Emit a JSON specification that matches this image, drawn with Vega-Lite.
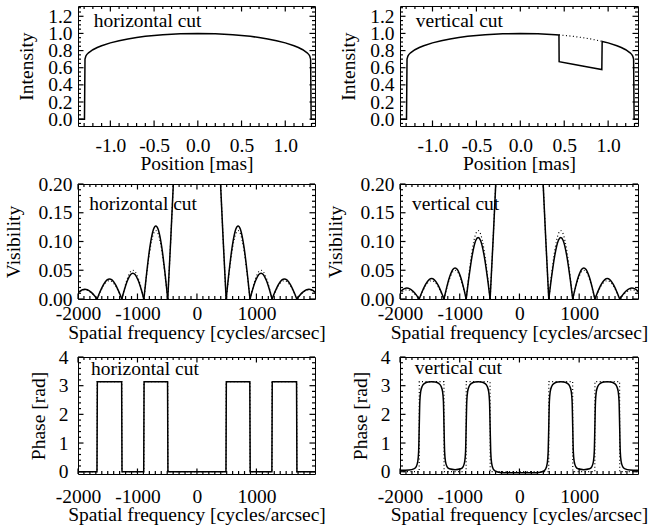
{
"$schema": "https://vega.github.io/schema/vega-lite/v6.json",
"background": "white",
"padding": {"left": 2, "top": 4, "right": 5, "bottom": 5},
"columns": 2,
"spacing": {"row": 58, "column": 85},
"bounds": "flush",
"config": {
  "font": "Liberation Serif",
  "view": {"stroke": "black", "strokeWidth": 1},
  "rule": {"color": "black", "strokeWidth": 1.2},
  "axis": {"labelFont": "Liberation Serif", "titleFont": "Liberation Serif", "labelFontSize": 19.5, "titleFontSize": 19.5, "labelColor": "black", "titleColor": "black", "titleFontWeight": "normal", "domain": false, "grid": false, "ticks": false, "labelFlush": false, "labelOverlap": false, "labelBound": false}
},
"datasets": {
  "t_top_x_maj": [{"t": -1}, {"t": -0.5}, {"t": 0}, {"t": 0.5}, {"t": 1}],
  "t_top_x_min": [{"t": -1.3}, {"t": -1.2}, {"t": -1.1}, {"t": -0.9}, {"t": -0.8}, {"t": -0.7}, {"t": -0.6}, {"t": -0.4}, {"t": -0.3}, {"t": -0.2}, {"t": -0.1}, {"t": 0.1}, {"t": 0.2}, {"t": 0.3}, {"t": 0.4}, {"t": 0.6}, {"t": 0.7}, {"t": 0.8}, {"t": 0.9}, {"t": 1.1}, {"t": 1.2}, {"t": 1.3}],
  "t_top_y_maj": [{"t": 0}, {"t": 0.2}, {"t": 0.4}, {"t": 0.6}, {"t": 0.8}, {"t": 1.0}, {"t": 1.2}],
  "t_top_y_min": [{"t": -0.05}, {"t": 0.05}, {"t": 0.1}, {"t": 0.15}, {"t": 0.25}, {"t": 0.3}, {"t": 0.35}, {"t": 0.45}, {"t": 0.5}, {"t": 0.55}, {"t": 0.65}, {"t": 0.7}, {"t": 0.75}, {"t": 0.85}, {"t": 0.9}, {"t": 0.95}, {"t": 1.05}, {"t": 1.1}, {"t": 1.15}, {"t": 1.25}, {"t": 1.3}],
  "t_f_x_maj": [{"t": -2000}, {"t": -1000}, {"t": 0}, {"t": 1000}],
  "t_f_x_min": [{"t": -1900}, {"t": -1800}, {"t": -1700}, {"t": -1600}, {"t": -1500}, {"t": -1400}, {"t": -1300}, {"t": -1200}, {"t": -1100}, {"t": -900}, {"t": -800}, {"t": -700}, {"t": -600}, {"t": -500}, {"t": -400}, {"t": -300}, {"t": -200}, {"t": -100}, {"t": 100}, {"t": 200}, {"t": 300}, {"t": 400}, {"t": 500}, {"t": 600}, {"t": 700}, {"t": 800}, {"t": 900}, {"t": 1100}, {"t": 1200}, {"t": 1300}, {"t": 1400}, {"t": 1500}, {"t": 1600}, {"t": 1700}, {"t": 1800}, {"t": 1900}],
  "t_v_y_maj": [{"t": 0}, {"t": 0.05}, {"t": 0.1}, {"t": 0.15}, {"t": 0.2}],
  "t_v_y_min": [{"t": 0.01}, {"t": 0.02}, {"t": 0.03}, {"t": 0.04}, {"t": 0.06}, {"t": 0.07}, {"t": 0.08}, {"t": 0.09}, {"t": 0.11}, {"t": 0.12}, {"t": 0.13}, {"t": 0.14}, {"t": 0.16}, {"t": 0.17}, {"t": 0.18}, {"t": 0.19}],
  "t_p_y_maj": [{"t": 0}, {"t": 1}, {"t": 2}, {"t": 3}, {"t": 4}],
  "t_p_y_min": [{"t": 0.2}, {"t": 0.4}, {"t": 0.6}, {"t": 0.8}, {"t": 1.2}, {"t": 1.4}, {"t": 1.6}, {"t": 1.8}, {"t": 2.2}, {"t": 2.4}, {"t": 2.6}, {"t": 2.8}, {"t": 3.2}, {"t": 3.4}, {"t": 3.6}, {"t": 3.8}],
  "int_h": [
    {"x": -1.37, "y": 0}, {"x": -1.296, "y": 0}, {"x": -1.29, "y": 0.70}, {"x": -1.28, "y": 0.737}, {"x": -1.27, "y": 0.753}, {"x": -1.25, "y": 0.774}, {"x": -1.2, "y": 0.810}, {"x": -1.15, "y": 0.836}, {"x": -1.1, "y": 0.857}, {"x": -1.0, "y": 0.890}, {"x": -0.9, "y": 0.915}, {"x": -0.8, "y": 0.936}, {"x": -0.7, "y": 0.952}, {"x": -0.6, "y": 0.966}, {"x": -0.4, "y": 0.985}, {"x": -0.2, "y": 0.996}, {"x": 0, "y": 1.0}, {"x": 0.2, "y": 0.996}, {"x": 0.4, "y": 0.985}, {"x": 0.6, "y": 0.966}, {"x": 0.7, "y": 0.952}, {"x": 0.8, "y": 0.936}, {"x": 0.9, "y": 0.915}, {"x": 1.0, "y": 0.890}, {"x": 1.1, "y": 0.857}, {"x": 1.15, "y": 0.836}, {"x": 1.2, "y": 0.810}, {"x": 1.25, "y": 0.774}, {"x": 1.27, "y": 0.753}, {"x": 1.28, "y": 0.737}, {"x": 1.29, "y": 0.70}, {"x": 1.296, "y": 0}, {"x": 1.34, "y": 0}
  ],
  "int_v": [
    {"x": -1.37, "y": 0}, {"x": -1.296, "y": 0}, {"x": -1.29, "y": 0.70}, {"x": -1.28, "y": 0.737}, {"x": -1.27, "y": 0.753}, {"x": -1.25, "y": 0.774}, {"x": -1.2, "y": 0.810}, {"x": -1.15, "y": 0.836}, {"x": -1.1, "y": 0.857}, {"x": -1.0, "y": 0.890}, {"x": -0.9, "y": 0.915}, {"x": -0.8, "y": 0.936}, {"x": -0.7, "y": 0.952}, {"x": -0.6, "y": 0.966}, {"x": -0.4, "y": 0.985}, {"x": -0.2, "y": 0.996}, {"x": 0, "y": 1.0}, {"x": 0.2, "y": 0.996}, {"x": 0.4, "y": 0.985}, {"x": 0.44, "y": 0.982}, {"x": 0.442, "y": 0.670}, {"x": 0.6, "y": 0.640}, {"x": 0.8, "y": 0.602}, {"x": 0.928, "y": 0.578}, {"x": 0.932, "y": 0.907}, {"x": 1.0, "y": 0.890}, {"x": 1.1, "y": 0.857}, {"x": 1.15, "y": 0.836}, {"x": 1.2, "y": 0.810}, {"x": 1.25, "y": 0.774}, {"x": 1.27, "y": 0.753}, {"x": 1.28, "y": 0.737}, {"x": 1.29, "y": 0.70}, {"x": 1.296, "y": 0}, {"x": 1.34, "y": 0}
  ],
  "int_vd": [
    {"x": 0.44, "y": 0.982}, {"x": 0.5, "y": 0.977}, {"x": 0.6, "y": 0.966}, {"x": 0.7, "y": 0.952}, {"x": 0.8, "y": 0.936}, {"x": 0.932, "y": 0.907}
  ],
  "vis_h": [
    {"seg": "c", "f": -491, "v": 0}, {"seg": "c", "f": -440, "v": 0.105}, {"seg": "c", "f": -397, "v": 0.2}, {"seg": "c", "f": -300, "v": 0.42}, {"seg": "c", "f": -150, "v": 0.8}, {"seg": "c", "f": 0, "v": 1}, {"seg": "c", "f": 150, "v": 0.8}, {"seg": "c", "f": 300, "v": 0.42}, {"seg": "c", "f": 397, "v": 0.2}, {"seg": "c", "f": 440, "v": 0.105}, {"seg": "c", "f": 491, "v": 0},
    {"seg": "p2", "f": 491, "v": 0}, {"seg": "p2", "f": 531, "v": 0.0392}, {"seg": "p2", "f": 591, "v": 0.0898}, {"seg": "p2", "f": 651, "v": 0.1208}, {"seg": "p2", "f": 692, "v": 0.127}, {"seg": "p2", "f": 732, "v": 0.1208}, {"seg": "p2", "f": 792, "v": 0.0898}, {"seg": "p2", "f": 852, "v": 0.0392}, {"seg": "p2", "f": 892, "v": 0},
    {"seg": "p3", "f": 892, "v": 0}, {"seg": "p3", "f": 929, "v": 0.0139}, {"seg": "p3", "f": 985, "v": 0.0318}, {"seg": "p3", "f": 1040, "v": 0.0428}, {"seg": "p3", "f": 1078, "v": 0.045}, {"seg": "p3", "f": 1115, "v": 0.0428}, {"seg": "p3", "f": 1170, "v": 0.0318}, {"seg": "p3", "f": 1226, "v": 0.0139}, {"seg": "p3", "f": 1263, "v": 0},
    {"seg": "p4", "f": 1263, "v": 0}, {"seg": "p4", "f": 1305, "v": 0.0108}, {"seg": "p4", "f": 1367, "v": 0.0247}, {"seg": "p4", "f": 1429, "v": 0.0333}, {"seg": "p4", "f": 1471, "v": 0.035}, {"seg": "p4", "f": 1512, "v": 0.0333}, {"seg": "p4", "f": 1574, "v": 0.0247}, {"seg": "p4", "f": 1637, "v": 0.0108}, {"seg": "p4", "f": 1678, "v": 0},
    {"seg": "p5", "f": 1678, "v": 0}, {"seg": "p5", "f": 1719, "v": 0.0053}, {"seg": "p5", "f": 1781, "v": 0.012}, {"seg": "p5", "f": 1843, "v": 0.0162}, {"seg": "p5", "f": 1884, "v": 0.017}, {"seg": "p5", "f": 1925, "v": 0.0162}, {"seg": "p5", "f": 1987, "v": 0.012}, {"seg": "p5", "f": 2049, "v": 0.0053},
    {"seg": "n2", "f": -491, "v": 0}, {"seg": "n2", "f": -531, "v": 0.0392}, {"seg": "n2", "f": -591, "v": 0.0898}, {"seg": "n2", "f": -651, "v": 0.1208}, {"seg": "n2", "f": -692, "v": 0.127}, {"seg": "n2", "f": -732, "v": 0.1208}, {"seg": "n2", "f": -792, "v": 0.0898}, {"seg": "n2", "f": -852, "v": 0.0392}, {"seg": "n2", "f": -892, "v": 0},
    {"seg": "n3", "f": -892, "v": 0}, {"seg": "n3", "f": -929, "v": 0.0139}, {"seg": "n3", "f": -985, "v": 0.0318}, {"seg": "n3", "f": -1040, "v": 0.0428}, {"seg": "n3", "f": -1078, "v": 0.045}, {"seg": "n3", "f": -1115, "v": 0.0428}, {"seg": "n3", "f": -1170, "v": 0.0318}, {"seg": "n3", "f": -1226, "v": 0.0139}, {"seg": "n3", "f": -1263, "v": 0},
    {"seg": "n4", "f": -1263, "v": 0}, {"seg": "n4", "f": -1305, "v": 0.0108}, {"seg": "n4", "f": -1367, "v": 0.0247}, {"seg": "n4", "f": -1429, "v": 0.0333}, {"seg": "n4", "f": -1471, "v": 0.035}, {"seg": "n4", "f": -1512, "v": 0.0333}, {"seg": "n4", "f": -1574, "v": 0.0247}, {"seg": "n4", "f": -1637, "v": 0.0108}, {"seg": "n4", "f": -1678, "v": 0},
    {"seg": "n5", "f": -1678, "v": 0}, {"seg": "n5", "f": -1719, "v": 0.0053}, {"seg": "n5", "f": -1781, "v": 0.012}, {"seg": "n5", "f": -1843, "v": 0.0162}, {"seg": "n5", "f": -1884, "v": 0.017}, {"seg": "n5", "f": -1925, "v": 0.0162}, {"seg": "n5", "f": -1987, "v": 0.012}, {"seg": "n5", "f": -2049, "v": 0.0053}
  ],
  "vis_d": [
    {"seg": "c", "f": -491, "v": 0}, {"seg": "c", "f": -440, "v": 0.105}, {"seg": "c", "f": -397, "v": 0.2}, {"seg": "c", "f": -300, "v": 0.42}, {"seg": "c", "f": -150, "v": 0.8}, {"seg": "c", "f": 0, "v": 1}, {"seg": "c", "f": 150, "v": 0.8}, {"seg": "c", "f": 300, "v": 0.42}, {"seg": "c", "f": 397, "v": 0.2}, {"seg": "c", "f": 440, "v": 0.105}, {"seg": "c", "f": 491, "v": 0},
    {"seg": "p2", "f": 491, "v": 0}, {"seg": "p2", "f": 531, "v": 0.0368}, {"seg": "p2", "f": 591, "v": 0.0841}, {"seg": "p2", "f": 651, "v": 0.1132}, {"seg": "p2", "f": 692, "v": 0.119}, {"seg": "p2", "f": 732, "v": 0.1132}, {"seg": "p2", "f": 792, "v": 0.0841}, {"seg": "p2", "f": 852, "v": 0.0368}, {"seg": "p2", "f": 892, "v": 0},
    {"seg": "p3", "f": 892, "v": 0}, {"seg": "p3", "f": 929, "v": 0.0155}, {"seg": "p3", "f": 985, "v": 0.0354}, {"seg": "p3", "f": 1040, "v": 0.0476}, {"seg": "p3", "f": 1078, "v": 0.05}, {"seg": "p3", "f": 1115, "v": 0.0476}, {"seg": "p3", "f": 1170, "v": 0.0354}, {"seg": "p3", "f": 1226, "v": 0.0155}, {"seg": "p3", "f": 1263, "v": 0},
    {"seg": "p4", "f": 1263, "v": 0}, {"seg": "p4", "f": 1305, "v": 0.0099}, {"seg": "p4", "f": 1367, "v": 0.0226}, {"seg": "p4", "f": 1429, "v": 0.0304}, {"seg": "p4", "f": 1471, "v": 0.032}, {"seg": "p4", "f": 1512, "v": 0.0304}, {"seg": "p4", "f": 1574, "v": 0.0226}, {"seg": "p4", "f": 1637, "v": 0.0099}, {"seg": "p4", "f": 1678, "v": 0},
    {"seg": "p5", "f": 1678, "v": 0}, {"seg": "p5", "f": 1719, "v": 0.0049}, {"seg": "p5", "f": 1781, "v": 0.0113}, {"seg": "p5", "f": 1843, "v": 0.0152}, {"seg": "p5", "f": 1884, "v": 0.016}, {"seg": "p5", "f": 1925, "v": 0.0152}, {"seg": "p5", "f": 1987, "v": 0.0113}, {"seg": "p5", "f": 2049, "v": 0.0049},
    {"seg": "n2", "f": -491, "v": 0}, {"seg": "n2", "f": -531, "v": 0.0368}, {"seg": "n2", "f": -591, "v": 0.0841}, {"seg": "n2", "f": -651, "v": 0.1132}, {"seg": "n2", "f": -692, "v": 0.119}, {"seg": "n2", "f": -732, "v": 0.1132}, {"seg": "n2", "f": -792, "v": 0.0841}, {"seg": "n2", "f": -852, "v": 0.0368}, {"seg": "n2", "f": -892, "v": 0},
    {"seg": "n3", "f": -892, "v": 0}, {"seg": "n3", "f": -929, "v": 0.0155}, {"seg": "n3", "f": -985, "v": 0.0354}, {"seg": "n3", "f": -1040, "v": 0.0476}, {"seg": "n3", "f": -1078, "v": 0.05}, {"seg": "n3", "f": -1115, "v": 0.0476}, {"seg": "n3", "f": -1170, "v": 0.0354}, {"seg": "n3", "f": -1226, "v": 0.0155}, {"seg": "n3", "f": -1263, "v": 0},
    {"seg": "n4", "f": -1263, "v": 0}, {"seg": "n4", "f": -1305, "v": 0.0099}, {"seg": "n4", "f": -1367, "v": 0.0226}, {"seg": "n4", "f": -1429, "v": 0.0304}, {"seg": "n4", "f": -1471, "v": 0.032}, {"seg": "n4", "f": -1512, "v": 0.0304}, {"seg": "n4", "f": -1574, "v": 0.0226}, {"seg": "n4", "f": -1637, "v": 0.0099}, {"seg": "n4", "f": -1678, "v": 0},
    {"seg": "n5", "f": -1678, "v": 0}, {"seg": "n5", "f": -1719, "v": 0.0049}, {"seg": "n5", "f": -1781, "v": 0.0113}, {"seg": "n5", "f": -1843, "v": 0.0152}, {"seg": "n5", "f": -1884, "v": 0.016}, {"seg": "n5", "f": -1925, "v": 0.0152}, {"seg": "n5", "f": -1987, "v": 0.0113}, {"seg": "n5", "f": -2049, "v": 0.0049}
  ],
  "vis_v": [
    {"seg": "c", "f": -491, "v": 0}, {"seg": "c", "f": -440, "v": 0.105}, {"seg": "c", "f": -397, "v": 0.2}, {"seg": "c", "f": -300, "v": 0.42}, {"seg": "c", "f": -150, "v": 0.8}, {"seg": "c", "f": 0, "v": 1}, {"seg": "c", "f": 150, "v": 0.8}, {"seg": "c", "f": 300, "v": 0.42}, {"seg": "c", "f": 397, "v": 0.2}, {"seg": "c", "f": 440, "v": 0.105}, {"seg": "c", "f": 491, "v": 0},
    {"seg": "p2", "f": 491, "v": 0}, {"seg": "p2", "f": 531, "v": 0.0331}, {"seg": "p2", "f": 591, "v": 0.0756}, {"seg": "p2", "f": 651, "v": 0.1018}, {"seg": "p2", "f": 692, "v": 0.107}, {"seg": "p2", "f": 732, "v": 0.1018}, {"seg": "p2", "f": 792, "v": 0.0756}, {"seg": "p2", "f": 852, "v": 0.0331}, {"seg": "p2", "f": 892, "v": 0},
    {"seg": "p3", "f": 892, "v": 0}, {"seg": "p3", "f": 929, "v": 0.0167}, {"seg": "p3", "f": 985, "v": 0.0382}, {"seg": "p3", "f": 1040, "v": 0.0514}, {"seg": "p3", "f": 1078, "v": 0.054}, {"seg": "p3", "f": 1115, "v": 0.0514}, {"seg": "p3", "f": 1170, "v": 0.0382}, {"seg": "p3", "f": 1226, "v": 0.0167}, {"seg": "p3", "f": 1263, "v": 0},
    {"seg": "p4", "f": 1263, "v": 0}, {"seg": "p4", "f": 1305, "v": 0.011}, {"seg": "p4", "f": 1367, "v": 0.0251}, {"seg": "p4", "f": 1429, "v": 0.0338}, {"seg": "p4", "f": 1471, "v": 0.0355}, {"seg": "p4", "f": 1512, "v": 0.0338}, {"seg": "p4", "f": 1574, "v": 0.0251}, {"seg": "p4", "f": 1637, "v": 0.011}, {"seg": "p4", "f": 1678, "v": 0},
    {"seg": "p5", "f": 1678, "v": 0}, {"seg": "p5", "f": 1719, "v": 0.0059}, {"seg": "p5", "f": 1781, "v": 0.0134}, {"seg": "p5", "f": 1843, "v": 0.0181}, {"seg": "p5", "f": 1884, "v": 0.019}, {"seg": "p5", "f": 1925, "v": 0.0181}, {"seg": "p5", "f": 1987, "v": 0.0134}, {"seg": "p5", "f": 2049, "v": 0.0059},
    {"seg": "n2", "f": -491, "v": 0}, {"seg": "n2", "f": -531, "v": 0.0331}, {"seg": "n2", "f": -591, "v": 0.0756}, {"seg": "n2", "f": -651, "v": 0.1018}, {"seg": "n2", "f": -692, "v": 0.107}, {"seg": "n2", "f": -732, "v": 0.1018}, {"seg": "n2", "f": -792, "v": 0.0756}, {"seg": "n2", "f": -852, "v": 0.0331}, {"seg": "n2", "f": -892, "v": 0},
    {"seg": "n3", "f": -892, "v": 0}, {"seg": "n3", "f": -929, "v": 0.0167}, {"seg": "n3", "f": -985, "v": 0.0382}, {"seg": "n3", "f": -1040, "v": 0.0514}, {"seg": "n3", "f": -1078, "v": 0.054}, {"seg": "n3", "f": -1115, "v": 0.0514}, {"seg": "n3", "f": -1170, "v": 0.0382}, {"seg": "n3", "f": -1226, "v": 0.0167}, {"seg": "n3", "f": -1263, "v": 0},
    {"seg": "n4", "f": -1263, "v": 0}, {"seg": "n4", "f": -1305, "v": 0.011}, {"seg": "n4", "f": -1367, "v": 0.0251}, {"seg": "n4", "f": -1429, "v": 0.0338}, {"seg": "n4", "f": -1471, "v": 0.0355}, {"seg": "n4", "f": -1512, "v": 0.0338}, {"seg": "n4", "f": -1574, "v": 0.0251}, {"seg": "n4", "f": -1637, "v": 0.011}, {"seg": "n4", "f": -1678, "v": 0},
    {"seg": "n5", "f": -1678, "v": 0}, {"seg": "n5", "f": -1719, "v": 0.0059}, {"seg": "n5", "f": -1781, "v": 0.0134}, {"seg": "n5", "f": -1843, "v": 0.0181}, {"seg": "n5", "f": -1884, "v": 0.019}, {"seg": "n5", "f": -1925, "v": 0.0181}, {"seg": "n5", "f": -1987, "v": 0.0134}, {"seg": "n5", "f": -2049, "v": 0.0059}
  ],
  "ph_h": [
    {"f": -2000, "p": 0}, {"f": -1681, "p": 0}, {"f": -1675, "p": 3.14}, {"f": -1266, "p": 3.14}, {"f": -1260, "p": 0}, {"f": -895, "p": 0}, {"f": -889, "p": 3.14}, {"f": -494, "p": 3.14}, {"f": -488, "p": 0}, {"f": 488, "p": 0}, {"f": 494, "p": 3.14}, {"f": 889, "p": 3.14}, {"f": 895, "p": 0}, {"f": 1260, "p": 0}, {"f": 1266, "p": 3.14}, {"f": 1675, "p": 3.14}, {"f": 1681, "p": 0}, {"f": 1985, "p": 0}
  ],
  "ph_d": [
    {"f": -2000, "p": 0}, {"f": -1679, "p": 0}, {"f": -1677, "p": 3.1416}, {"f": -1264, "p": 3.1416}, {"f": -1262, "p": 0}, {"f": -893, "p": 0}, {"f": -891, "p": 3.1416}, {"f": -492, "p": 3.1416}, {"f": -490, "p": 0}, {"f": 490, "p": 0}, {"f": 492, "p": 3.1416}, {"f": 891, "p": 3.1416}, {"f": 893, "p": 0}, {"f": 1262, "p": 0}, {"f": 1264, "p": 3.1416}, {"f": 1677, "p": 3.1416}, {"f": 1679, "p": 0}, {"f": 1985, "p": 0}
  ],
  "ph_v": [
    {"f": -2000, "p": 0.05}, {"f": -1850, "p": 0.06}, {"f": -1768, "p": 0.1}, {"f": -1728, "p": 0.18}, {"f": -1703, "p": 0.35}, {"f": -1688, "p": 0.7}, {"f": -1678, "p": 1.57}, {"f": -1668, "p": 2.45}, {"f": -1653, "p": 2.8}, {"f": -1628, "p": 2.98}, {"f": -1588, "p": 3.08}, {"f": -1530, "p": 3.13}, {"f": -1471, "p": 3.14}, {"f": -1410, "p": 3.13}, {"f": -1353, "p": 3.08}, {"f": -1313, "p": 2.98}, {"f": -1288, "p": 2.8}, {"f": -1273, "p": 2.45}, {"f": -1263, "p": 1.57}, {"f": -1253, "p": 0.7}, {"f": -1238, "p": 0.35}, {"f": -1213, "p": 0.18}, {"f": -1173, "p": 0.1}, {"f": -1078, "p": 0.07}, {"f": -982, "p": 0.1}, {"f": -942, "p": 0.18}, {"f": -917, "p": 0.35}, {"f": -902, "p": 0.7}, {"f": -892, "p": 1.57}, {"f": -882, "p": 2.45}, {"f": -867, "p": 2.8}, {"f": -842, "p": 2.98}, {"f": -802, "p": 3.08}, {"f": -744, "p": 3.13}, {"f": -692, "p": 3.14}, {"f": -640, "p": 3.13}, {"f": -581, "p": 3.08}, {"f": -541, "p": 2.98}, {"f": -516, "p": 2.8}, {"f": -501, "p": 2.45}, {"f": -491, "p": 1.57}, {"f": -481, "p": 0.7}, {"f": -466, "p": 0.3}, {"f": -440, "p": 0.1}, {"f": -400, "p": 0.02}, {"f": -350, "p": -0.02}, {"f": -250, "p": -0.04}, {"f": 0, "p": -0.04},
    {"f": 250, "p": -0.04}, {"f": 350, "p": -0.02}, {"f": 400, "p": 0.02}, {"f": 440, "p": 0.1}, {"f": 466, "p": 0.3}, {"f": 481, "p": 0.7}, {"f": 491, "p": 1.57}, {"f": 501, "p": 2.45}, {"f": 516, "p": 2.8}, {"f": 541, "p": 2.98}, {"f": 581, "p": 3.08}, {"f": 640, "p": 3.13}, {"f": 692, "p": 3.14}, {"f": 744, "p": 3.13}, {"f": 802, "p": 3.08}, {"f": 842, "p": 2.98}, {"f": 867, "p": 2.8}, {"f": 882, "p": 2.45}, {"f": 892, "p": 1.57}, {"f": 902, "p": 0.7}, {"f": 917, "p": 0.35}, {"f": 942, "p": 0.18}, {"f": 982, "p": 0.1}, {"f": 1078, "p": 0.07}, {"f": 1173, "p": 0.1}, {"f": 1213, "p": 0.18}, {"f": 1238, "p": 0.35}, {"f": 1253, "p": 0.7}, {"f": 1263, "p": 1.57}, {"f": 1273, "p": 2.45}, {"f": 1288, "p": 2.8}, {"f": 1313, "p": 2.98}, {"f": 1353, "p": 3.08}, {"f": 1410, "p": 3.13}, {"f": 1471, "p": 3.14}, {"f": 1530, "p": 3.13}, {"f": 1588, "p": 3.08}, {"f": 1628, "p": 2.98}, {"f": 1653, "p": 2.8}, {"f": 1668, "p": 2.45}, {"f": 1678, "p": 1.57}, {"f": 1688, "p": 0.7}, {"f": 1703, "p": 0.35}, {"f": 1728, "p": 0.18}, {"f": 1768, "p": 0.1}, {"f": 1850, "p": 0.06}, {"f": 1985, "p": 0.05}
  ]
},
"concat": [
  {"width": 237, "height": 120, "resolve": {"axis": {"x": "independent", "y": "independent"}},
   "layer": [
    {"data": {"name": "int_h"}, "mark": {"type": "line", "color": "black", "strokeWidth": 1.5, "clip": true},
     "encoding": {
      "x": {"field": "x", "type": "quantitative", "scale": {"domain": [-1.37, 1.34], "nice": false, "zero": false}, "axis": {"title": "Position [mas]", "values": [-1, -0.5, 0, 0.5, 1], "format": ".1f", "labelExpr": "replace(datum.label, '\u2212', '-')", "labelPadding": 10, "titlePadding": 0}},
      "y": {"field": "y", "type": "quantitative", "scale": {"domain": [-0.08, 1.32], "nice": false, "zero": false}, "axis": {"title": "Intensity", "values": [0, 0.2, 0.4, 0.6, 0.8, 1, 1.2], "format": ".1f", "labelPadding": 6, "titlePadding": 2, "minExtent": 40, "maxExtent": 40}}}},
    {"data": {"values": [{"label": "horizontal cut"}]}, "mark": {"type": "text", "align": "left", "baseline": "alphabetic", "fontSize": 19.5, "font": "Liberation Serif", "color": "black"},
     "encoding": {"x": {"datum": -1.19, "type": "quantitative", "axis": null}, "y": {"datum": 1.08, "type": "quantitative", "axis": null}, "text": {"field": "label"}}},
    {"data": {"name": "t_top_x_maj"}, "mark": {"type": "rule", "y2Offset": -5.5}, "encoding": {"x": {"field": "t", "type": "quantitative", "axis": null}, "y": {"datum": -0.08, "type": "quantitative", "axis": null}, "y2": {"datum": -0.08}}},
    {"data": {"name": "t_top_x_min"}, "mark": {"type": "rule", "y2Offset": -3}, "encoding": {"x": {"field": "t", "type": "quantitative", "axis": null}, "y": {"datum": -0.08, "type": "quantitative", "axis": null}, "y2": {"datum": -0.08}}},
    {"data": {"name": "t_top_x_maj"}, "mark": {"type": "rule", "y2Offset": 5.5}, "encoding": {"x": {"field": "t", "type": "quantitative", "axis": null}, "y": {"datum": 1.32, "type": "quantitative", "axis": null}, "y2": {"datum": 1.32}}},
    {"data": {"name": "t_top_x_min"}, "mark": {"type": "rule", "y2Offset": 3}, "encoding": {"x": {"field": "t", "type": "quantitative", "axis": null}, "y": {"datum": 1.32, "type": "quantitative", "axis": null}, "y2": {"datum": 1.32}}},
    {"data": {"name": "t_top_y_maj"}, "mark": {"type": "rule", "x2Offset": 5.5}, "encoding": {"y": {"field": "t", "type": "quantitative", "axis": null}, "x": {"datum": -1.37, "type": "quantitative", "axis": null}, "x2": {"datum": -1.37}}},
    {"data": {"name": "t_top_y_min"}, "mark": {"type": "rule", "x2Offset": 3}, "encoding": {"y": {"field": "t", "type": "quantitative", "axis": null}, "x": {"datum": -1.37, "type": "quantitative", "axis": null}, "x2": {"datum": -1.37}}},
    {"data": {"name": "t_top_y_maj"}, "mark": {"type": "rule", "x2Offset": -5.5}, "encoding": {"y": {"field": "t", "type": "quantitative", "axis": null}, "x": {"datum": 1.34, "type": "quantitative", "axis": null}, "x2": {"datum": 1.34}}},
    {"data": {"name": "t_top_y_min"}, "mark": {"type": "rule", "x2Offset": -3}, "encoding": {"y": {"field": "t", "type": "quantitative", "axis": null}, "x": {"datum": 1.34, "type": "quantitative", "axis": null}, "x2": {"datum": 1.34}}}
   ]},
  {"width": 238, "height": 120, "resolve": {"axis": {"x": "independent", "y": "independent"}},
   "layer": [
    {"data": {"name": "int_v"}, "mark": {"type": "line", "color": "black", "strokeWidth": 1.5, "clip": true},
     "encoding": {
      "x": {"field": "x", "type": "quantitative", "scale": {"domain": [-1.37, 1.34], "nice": false, "zero": false}, "axis": {"title": "Position [mas]", "values": [-1, -0.5, 0, 0.5, 1], "format": ".1f", "labelExpr": "replace(datum.label, '\u2212', '-')", "labelPadding": 10, "titlePadding": 0}},
      "y": {"field": "y", "type": "quantitative", "scale": {"domain": [-0.08, 1.32], "nice": false, "zero": false}, "axis": {"title": "Intensity", "values": [0, 0.2, 0.4, 0.6, 0.8, 1, 1.2], "format": ".1f", "labelPadding": 6, "titlePadding": 2, "minExtent": 40, "maxExtent": 40}}}},
    {"data": {"name": "int_vd"}, "mark": {"type": "line", "color": "black", "strokeWidth": 1.2, "strokeDash": [1, 2.5], "clip": true},
     "encoding": {"x": {"field": "x", "type": "quantitative", "axis": null}, "y": {"field": "y", "type": "quantitative", "axis": null}}},
    {"data": {"values": [{"label": "vertical cut"}]}, "mark": {"type": "text", "align": "left", "baseline": "alphabetic", "fontSize": 19.5, "font": "Liberation Serif", "color": "black"},
     "encoding": {"x": {"datum": -1.19, "type": "quantitative", "axis": null}, "y": {"datum": 1.08, "type": "quantitative", "axis": null}, "text": {"field": "label"}}},
    {"data": {"name": "t_top_x_maj"}, "mark": {"type": "rule", "y2Offset": -5.5}, "encoding": {"x": {"field": "t", "type": "quantitative", "axis": null}, "y": {"datum": -0.08, "type": "quantitative", "axis": null}, "y2": {"datum": -0.08}}},
    {"data": {"name": "t_top_x_min"}, "mark": {"type": "rule", "y2Offset": -3}, "encoding": {"x": {"field": "t", "type": "quantitative", "axis": null}, "y": {"datum": -0.08, "type": "quantitative", "axis": null}, "y2": {"datum": -0.08}}},
    {"data": {"name": "t_top_x_maj"}, "mark": {"type": "rule", "y2Offset": 5.5}, "encoding": {"x": {"field": "t", "type": "quantitative", "axis": null}, "y": {"datum": 1.32, "type": "quantitative", "axis": null}, "y2": {"datum": 1.32}}},
    {"data": {"name": "t_top_x_min"}, "mark": {"type": "rule", "y2Offset": 3}, "encoding": {"x": {"field": "t", "type": "quantitative", "axis": null}, "y": {"datum": 1.32, "type": "quantitative", "axis": null}, "y2": {"datum": 1.32}}},
    {"data": {"name": "t_top_y_maj"}, "mark": {"type": "rule", "x2Offset": 5.5}, "encoding": {"y": {"field": "t", "type": "quantitative", "axis": null}, "x": {"datum": -1.37, "type": "quantitative", "axis": null}, "x2": {"datum": -1.37}}},
    {"data": {"name": "t_top_y_min"}, "mark": {"type": "rule", "x2Offset": 3}, "encoding": {"y": {"field": "t", "type": "quantitative", "axis": null}, "x": {"datum": -1.37, "type": "quantitative", "axis": null}, "x2": {"datum": -1.37}}},
    {"data": {"name": "t_top_y_maj"}, "mark": {"type": "rule", "x2Offset": -5.5}, "encoding": {"y": {"field": "t", "type": "quantitative", "axis": null}, "x": {"datum": 1.34, "type": "quantitative", "axis": null}, "x2": {"datum": 1.34}}},
    {"data": {"name": "t_top_y_min"}, "mark": {"type": "rule", "x2Offset": -3}, "encoding": {"y": {"field": "t", "type": "quantitative", "axis": null}, "x": {"datum": 1.34, "type": "quantitative", "axis": null}, "x2": {"datum": 1.34}}}
   ]},
  {"width": 237, "height": 115, "resolve": {"axis": {"x": "independent", "y": "independent"}},
   "layer": [
    {"data": {"name": "vis_h"}, "mark": {"type": "line", "color": "black", "strokeWidth": 1.5, "clip": true, "interpolate": "monotone"},
     "encoding": {
      "x": {"field": "f", "type": "quantitative", "scale": {"domain": [-2000, 1985], "nice": false, "zero": false}, "axis": {"title": "Spatial frequency [cycles/arcsec]", "values": [-2000, -1000, 0, 1000], "format": "d", "labelExpr": "replace(datum.label, '\u2212', '-')", "labelPadding": 5, "titlePadding": 1}},
      "y": {"field": "v", "type": "quantitative", "scale": {"domain": [0, 0.2], "nice": false, "zero": false}, "axis": {"title": "Visibility", "values": [0, 0.05, 0.1, 0.15, 0.2], "format": ".2f", "labelPadding": 6, "titlePadding": 2, "minExtent": 53, "maxExtent": 53}},
      "detail": {"field": "seg"}}},
    {"data": {"name": "vis_d"}, "mark": {"type": "line", "color": "black", "strokeWidth": 1.2, "strokeDash": [1, 2.5], "clip": true, "interpolate": "monotone"},
     "encoding": {"x": {"field": "f", "type": "quantitative", "axis": null}, "y": {"field": "v", "type": "quantitative", "axis": null}, "detail": {"field": "seg"}}},
    {"data": {"values": [{"label": "horizontal cut"}]}, "mark": {"type": "text", "align": "left", "baseline": "alphabetic", "fontSize": 19.5, "font": "Liberation Serif", "color": "black"},
     "encoding": {"x": {"datum": -1811, "type": "quantitative", "axis": null}, "y": {"datum": 0.154, "type": "quantitative", "axis": null}, "text": {"field": "label"}}},
    {"data": {"name": "t_f_x_maj"}, "mark": {"type": "rule", "y2Offset": -5.5}, "encoding": {"x": {"field": "t", "type": "quantitative", "axis": null}, "y": {"datum": 0, "type": "quantitative", "axis": null}, "y2": {"datum": 0}}},
    {"data": {"name": "t_f_x_min"}, "mark": {"type": "rule", "y2Offset": -3}, "encoding": {"x": {"field": "t", "type": "quantitative", "axis": null}, "y": {"datum": 0, "type": "quantitative", "axis": null}, "y2": {"datum": 0}}},
    {"data": {"name": "t_f_x_maj"}, "mark": {"type": "rule", "y2Offset": 5.5}, "encoding": {"x": {"field": "t", "type": "quantitative", "axis": null}, "y": {"datum": 0.2, "type": "quantitative", "axis": null}, "y2": {"datum": 0.2}}},
    {"data": {"name": "t_f_x_min"}, "mark": {"type": "rule", "y2Offset": 3}, "encoding": {"x": {"field": "t", "type": "quantitative", "axis": null}, "y": {"datum": 0.2, "type": "quantitative", "axis": null}, "y2": {"datum": 0.2}}},
    {"data": {"name": "t_v_y_maj"}, "mark": {"type": "rule", "x2Offset": 5.5}, "encoding": {"y": {"field": "t", "type": "quantitative", "axis": null}, "x": {"datum": -2000, "type": "quantitative", "axis": null}, "x2": {"datum": -2000}}},
    {"data": {"name": "t_v_y_min"}, "mark": {"type": "rule", "x2Offset": 3}, "encoding": {"y": {"field": "t", "type": "quantitative", "axis": null}, "x": {"datum": -2000, "type": "quantitative", "axis": null}, "x2": {"datum": -2000}}},
    {"data": {"name": "t_v_y_maj"}, "mark": {"type": "rule", "x2Offset": -5.5}, "encoding": {"y": {"field": "t", "type": "quantitative", "axis": null}, "x": {"datum": 1985, "type": "quantitative", "axis": null}, "x2": {"datum": 1985}}},
    {"data": {"name": "t_v_y_min"}, "mark": {"type": "rule", "x2Offset": -3}, "encoding": {"y": {"field": "t", "type": "quantitative", "axis": null}, "x": {"datum": 1985, "type": "quantitative", "axis": null}, "x2": {"datum": 1985}}}
   ]},
  {"width": 238, "height": 115, "resolve": {"axis": {"x": "independent", "y": "independent"}},
   "layer": [
    {"data": {"name": "vis_v"}, "mark": {"type": "line", "color": "black", "strokeWidth": 1.5, "clip": true, "interpolate": "monotone"},
     "encoding": {
      "x": {"field": "f", "type": "quantitative", "scale": {"domain": [-2000, 1985], "nice": false, "zero": false}, "axis": {"title": "Spatial frequency [cycles/arcsec]", "values": [-2000, -1000, 0, 1000], "format": "d", "labelExpr": "replace(datum.label, '\u2212', '-')", "labelPadding": 5, "titlePadding": 1}},
      "y": {"field": "v", "type": "quantitative", "scale": {"domain": [0, 0.2], "nice": false, "zero": false}, "axis": {"title": "Visibility", "values": [0, 0.05, 0.1, 0.15, 0.2], "format": ".2f", "labelPadding": 6, "titlePadding": 2, "minExtent": 53, "maxExtent": 53}},
      "detail": {"field": "seg"}}},
    {"data": {"name": "vis_d"}, "mark": {"type": "line", "color": "black", "strokeWidth": 1.2, "strokeDash": [1, 2.5], "clip": true, "interpolate": "monotone"},
     "encoding": {"x": {"field": "f", "type": "quantitative", "axis": null}, "y": {"field": "v", "type": "quantitative", "axis": null}, "detail": {"field": "seg"}}},
    {"data": {"values": [{"label": "vertical cut"}]}, "mark": {"type": "text", "align": "left", "baseline": "alphabetic", "fontSize": 19.5, "font": "Liberation Serif", "color": "black"},
     "encoding": {"x": {"datum": -1798, "type": "quantitative", "axis": null}, "y": {"datum": 0.154, "type": "quantitative", "axis": null}, "text": {"field": "label"}}},
    {"data": {"name": "t_f_x_maj"}, "mark": {"type": "rule", "y2Offset": -5.5}, "encoding": {"x": {"field": "t", "type": "quantitative", "axis": null}, "y": {"datum": 0, "type": "quantitative", "axis": null}, "y2": {"datum": 0}}},
    {"data": {"name": "t_f_x_min"}, "mark": {"type": "rule", "y2Offset": -3}, "encoding": {"x": {"field": "t", "type": "quantitative", "axis": null}, "y": {"datum": 0, "type": "quantitative", "axis": null}, "y2": {"datum": 0}}},
    {"data": {"name": "t_f_x_maj"}, "mark": {"type": "rule", "y2Offset": 5.5}, "encoding": {"x": {"field": "t", "type": "quantitative", "axis": null}, "y": {"datum": 0.2, "type": "quantitative", "axis": null}, "y2": {"datum": 0.2}}},
    {"data": {"name": "t_f_x_min"}, "mark": {"type": "rule", "y2Offset": 3}, "encoding": {"x": {"field": "t", "type": "quantitative", "axis": null}, "y": {"datum": 0.2, "type": "quantitative", "axis": null}, "y2": {"datum": 0.2}}},
    {"data": {"name": "t_v_y_maj"}, "mark": {"type": "rule", "x2Offset": 5.5}, "encoding": {"y": {"field": "t", "type": "quantitative", "axis": null}, "x": {"datum": -2000, "type": "quantitative", "axis": null}, "x2": {"datum": -2000}}},
    {"data": {"name": "t_v_y_min"}, "mark": {"type": "rule", "x2Offset": 3}, "encoding": {"y": {"field": "t", "type": "quantitative", "axis": null}, "x": {"datum": -2000, "type": "quantitative", "axis": null}, "x2": {"datum": -2000}}},
    {"data": {"name": "t_v_y_maj"}, "mark": {"type": "rule", "x2Offset": -5.5}, "encoding": {"y": {"field": "t", "type": "quantitative", "axis": null}, "x": {"datum": 1985, "type": "quantitative", "axis": null}, "x2": {"datum": 1985}}},
    {"data": {"name": "t_v_y_min"}, "mark": {"type": "rule", "x2Offset": -3}, "encoding": {"y": {"field": "t", "type": "quantitative", "axis": null}, "x": {"datum": 1985, "type": "quantitative", "axis": null}, "x2": {"datum": 1985}}}
   ]},
  {"width": 237, "height": 117, "resolve": {"axis": {"x": "independent", "y": "independent"}},
   "layer": [
    {"data": {"name": "ph_h"}, "mark": {"type": "line", "color": "black", "strokeWidth": 1.5, "clip": true},
     "encoding": {
      "x": {"field": "f", "type": "quantitative", "scale": {"domain": [-2000, 1985], "nice": false, "zero": false}, "axis": {"title": "Spatial frequency [cycles/arcsec]", "values": [-2000, -1000, 0, 1000], "format": "d", "labelExpr": "replace(datum.label, '\u2212', '-')", "labelPadding": 13, "titlePadding": 0}},
      "y": {"field": "p", "type": "quantitative", "scale": {"domain": [-0.08, 4.0], "nice": false, "zero": false}, "axis": {"title": "Phase [rad]", "values": [0, 1, 2, 3, 4], "format": "d", "labelPadding": 10, "titlePadding": 2, "minExtent": 27.5, "maxExtent": 27.5}}}},
    {"data": {"name": "ph_d"}, "mark": {"type": "line", "color": "black", "strokeWidth": 1.2, "strokeDash": [1, 2.5], "clip": true},
     "encoding": {"x": {"field": "f", "type": "quantitative", "axis": null}, "y": {"field": "p", "type": "quantitative", "axis": null}}},
    {"data": {"values": [{"label": "horizontal cut"}]}, "mark": {"type": "text", "align": "left", "baseline": "alphabetic", "fontSize": 19.5, "font": "Liberation Serif", "color": "black"},
     "encoding": {"x": {"datum": -1780, "type": "quantitative", "axis": null}, "y": {"datum": 3.38, "type": "quantitative", "axis": null}, "text": {"field": "label"}}},
    {"data": {"name": "t_f_x_maj"}, "mark": {"type": "rule", "y2Offset": -5.5}, "encoding": {"x": {"field": "t", "type": "quantitative", "axis": null}, "y": {"datum": -0.08, "type": "quantitative", "axis": null}, "y2": {"datum": -0.08}}},
    {"data": {"name": "t_f_x_min"}, "mark": {"type": "rule", "y2Offset": -3}, "encoding": {"x": {"field": "t", "type": "quantitative", "axis": null}, "y": {"datum": -0.08, "type": "quantitative", "axis": null}, "y2": {"datum": -0.08}}},
    {"data": {"name": "t_f_x_maj"}, "mark": {"type": "rule", "y2Offset": 5.5}, "encoding": {"x": {"field": "t", "type": "quantitative", "axis": null}, "y": {"datum": 4.0, "type": "quantitative", "axis": null}, "y2": {"datum": 4.0}}},
    {"data": {"name": "t_f_x_min"}, "mark": {"type": "rule", "y2Offset": 3}, "encoding": {"x": {"field": "t", "type": "quantitative", "axis": null}, "y": {"datum": 4.0, "type": "quantitative", "axis": null}, "y2": {"datum": 4.0}}},
    {"data": {"name": "t_p_y_maj"}, "mark": {"type": "rule", "x2Offset": 5.5}, "encoding": {"y": {"field": "t", "type": "quantitative", "axis": null}, "x": {"datum": -2000, "type": "quantitative", "axis": null}, "x2": {"datum": -2000}}},
    {"data": {"name": "t_p_y_min"}, "mark": {"type": "rule", "x2Offset": 3}, "encoding": {"y": {"field": "t", "type": "quantitative", "axis": null}, "x": {"datum": -2000, "type": "quantitative", "axis": null}, "x2": {"datum": -2000}}},
    {"data": {"name": "t_p_y_maj"}, "mark": {"type": "rule", "x2Offset": -5.5}, "encoding": {"y": {"field": "t", "type": "quantitative", "axis": null}, "x": {"datum": 1985, "type": "quantitative", "axis": null}, "x2": {"datum": 1985}}},
    {"data": {"name": "t_p_y_min"}, "mark": {"type": "rule", "x2Offset": -3}, "encoding": {"y": {"field": "t", "type": "quantitative", "axis": null}, "x": {"datum": 1985, "type": "quantitative", "axis": null}, "x2": {"datum": 1985}}}
   ]},
  {"width": 238, "height": 117, "resolve": {"axis": {"x": "independent", "y": "independent"}},
   "layer": [
    {"data": {"name": "ph_v"}, "mark": {"type": "line", "color": "black", "strokeWidth": 1.5, "clip": true, "interpolate": "monotone"},
     "encoding": {
      "x": {"field": "f", "type": "quantitative", "scale": {"domain": [-2000, 1985], "nice": false, "zero": false}, "axis": {"title": "Spatial frequency [cycles/arcsec]", "values": [-2000, -1000, 0, 1000], "format": "d", "labelExpr": "replace(datum.label, '\u2212', '-')", "labelPadding": 13, "titlePadding": 0}},
      "y": {"field": "p", "type": "quantitative", "scale": {"domain": [-0.08, 4.0], "nice": false, "zero": false}, "axis": {"title": "Phase [rad]", "values": [0, 1, 2, 3, 4], "format": "d", "labelPadding": 10, "titlePadding": 2, "minExtent": 27.5, "maxExtent": 27.5}}}},
    {"data": {"name": "ph_d"}, "mark": {"type": "line", "color": "black", "strokeWidth": 1.2, "strokeDash": [1, 2.5], "clip": true},
     "encoding": {"x": {"field": "f", "type": "quantitative", "axis": null}, "y": {"field": "p", "type": "quantitative", "axis": null}}},
    {"data": {"values": [{"label": "vertical cut"}]}, "mark": {"type": "text", "align": "left", "baseline": "alphabetic", "fontSize": 19.5, "font": "Liberation Serif", "color": "black"},
     "encoding": {"x": {"datum": -1751, "type": "quantitative", "axis": null}, "y": {"datum": 3.42, "type": "quantitative", "axis": null}, "text": {"field": "label"}}},
    {"data": {"name": "t_f_x_maj"}, "mark": {"type": "rule", "y2Offset": -5.5}, "encoding": {"x": {"field": "t", "type": "quantitative", "axis": null}, "y": {"datum": -0.08, "type": "quantitative", "axis": null}, "y2": {"datum": -0.08}}},
    {"data": {"name": "t_f_x_min"}, "mark": {"type": "rule", "y2Offset": -3}, "encoding": {"x": {"field": "t", "type": "quantitative", "axis": null}, "y": {"datum": -0.08, "type": "quantitative", "axis": null}, "y2": {"datum": -0.08}}},
    {"data": {"name": "t_f_x_maj"}, "mark": {"type": "rule", "y2Offset": 5.5}, "encoding": {"x": {"field": "t", "type": "quantitative", "axis": null}, "y": {"datum": 4.0, "type": "quantitative", "axis": null}, "y2": {"datum": 4.0}}},
    {"data": {"name": "t_f_x_min"}, "mark": {"type": "rule", "y2Offset": 3}, "encoding": {"x": {"field": "t", "type": "quantitative", "axis": null}, "y": {"datum": 4.0, "type": "quantitative", "axis": null}, "y2": {"datum": 4.0}}},
    {"data": {"name": "t_p_y_maj"}, "mark": {"type": "rule", "x2Offset": 5.5}, "encoding": {"y": {"field": "t", "type": "quantitative", "axis": null}, "x": {"datum": -2000, "type": "quantitative", "axis": null}, "x2": {"datum": -2000}}},
    {"data": {"name": "t_p_y_min"}, "mark": {"type": "rule", "x2Offset": 3}, "encoding": {"y": {"field": "t", "type": "quantitative", "axis": null}, "x": {"datum": -2000, "type": "quantitative", "axis": null}, "x2": {"datum": -2000}}},
    {"data": {"name": "t_p_y_maj"}, "mark": {"type": "rule", "x2Offset": -5.5}, "encoding": {"y": {"field": "t", "type": "quantitative", "axis": null}, "x": {"datum": 1985, "type": "quantitative", "axis": null}, "x2": {"datum": 1985}}},
    {"data": {"name": "t_p_y_min"}, "mark": {"type": "rule", "x2Offset": -3}, "encoding": {"y": {"field": "t", "type": "quantitative", "axis": null}, "x": {"datum": 1985, "type": "quantitative", "axis": null}, "x2": {"datum": 1985}}}
   ]}
]
}
